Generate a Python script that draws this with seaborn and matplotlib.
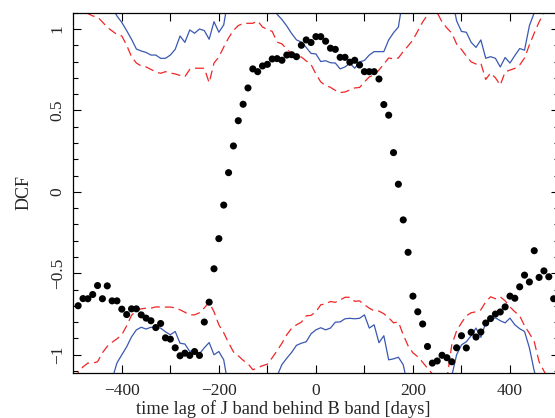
import numpy as np
import pandas as pd
import matplotlib
matplotlib.use("Agg")
import matplotlib.pyplot as plt
from matplotlib.ticker import FixedLocator, FuncFormatter, MultipleLocator
import seaborn as sns

# DCF estimates (10-day bins)
lag_pts = np.arange(-490, 500, 10)
dcf = [
    -0.699, -0.655, -0.656, -0.630, -0.575, -0.656, -0.577, -0.669, -0.669, -0.720,
    -0.753, -0.718, -0.718, -0.755, -0.775, -0.791, -0.833, -0.808, -0.896, -0.904,
    -0.957, -1.006, -0.990, -1.004, -0.980, -1.004, -0.799, -0.677, -0.472, -0.287,
    -0.081, 0.118, 0.282, 0.437, 0.538, 0.638, 0.755, 0.738, 0.773, 0.783,
    0.816, 0.818, 0.808, 0.840, 0.842, 0.830, 0.900, 0.933, 0.917, 0.953,
    0.953, 0.925, 0.882, 0.875, 0.826, 0.826, 0.796, 0.808, 0.779, 0.738,
    0.738, 0.738, 0.693, 0.536, 0.471, 0.241, 0.047, -0.172, -0.371, -0.640,
    -0.736, -0.811, -0.949, -1.051, -1.038, -1.003, -1.018, -1.043, -0.957, -0.883,
    -0.958, -0.862, -0.891, -0.860, -0.805, -0.778, -0.750, -0.737, -0.706, -0.640,
    -0.653, -0.583, -0.511, -0.553, -0.361, -0.525, -0.485, -0.521, -0.656,
]

# significance envelopes from simulated light curves
lag_env = np.arange(-500, 510, 10)
upper_blue = [
    1.25, 1.25, 1.25, 1.25, 1.25, 1.22, 1.20, 1.17, 1.13, 1.08,
    1.04, 0.99, 0.937, 0.877, 0.865, 0.856, 0.840, 0.840, 0.820, 0.820,
    0.840, 0.875, 0.957, 0.918, 0.994, 0.974, 1.000, 0.990, 0.937, 1.045,
    0.980, 1.025, 1.20, 1.30, 1.30, 1.30, 1.30, 1.30, 1.30, 1.30,
    1.30, 1.20, 1.09, 1.058, 1.018, 0.972, 0.933, 0.920, 0.887, 0.850,
    0.847, 0.800, 0.805, 0.793, 0.791, 0.755, 0.767, 0.790, 0.759, 0.798,
    0.807, 0.840, 0.861, 0.861, 0.861, 0.933, 0.977, 1.012, 1.20, 1.30,
    1.30, 1.30, 1.30, 1.30, 1.30, 1.30, 1.30, 1.30, 1.20, 1.05,
    0.985, 0.980, 0.918, 0.887, 0.933, 0.820, 0.830, 0.820, 0.767, 0.825,
    0.791, 0.837, 0.880, 0.870, 1.020, 1.10, 1.20, 1.30, 1.30, 1.30,
    1.30,
]
upper_red = [
    1.13, 1.12, 1.105, 1.095, 1.08, 1.074, 1.043, 1.010, 0.988, 0.966,
    0.957, 0.900, 0.830, 0.791, 0.773, 0.767, 0.752, 0.736, 0.728, 0.738,
    0.730, 0.724, 0.715, 0.707, 0.752, 0.759, 0.759, 0.759, 0.670, 0.791,
    0.828, 0.889, 0.945, 0.991, 1.021, 1.034, 1.035, 1.035, 1.049, 1.012,
    0.997, 0.985, 0.920, 0.908, 0.877, 0.847, 0.837, 0.828, 0.804, 0.782,
    0.724, 0.675, 0.653, 0.642, 0.623, 0.610, 0.613, 0.626, 0.638, 0.641,
    0.675, 0.706, 0.718, 0.748, 0.785, 0.822, 0.816, 0.822, 0.862, 0.896,
    0.933, 0.988, 1.043, 1.086, 1.13, 1.10, 1.043, 1.006, 0.975, 0.908,
    0.874, 0.834, 0.798, 0.785, 0.790, 0.690, 0.730, 0.700, 0.656, 0.736,
    0.748, 0.758, 0.779, 0.822, 0.902, 0.975, 1.043, 1.10, 1.15, 1.20,
    1.25,
]
lower_blue = [
    -1.30, -1.30, -1.30, -1.30, -1.30, -1.30, -1.30, -1.30, -1.15, -1.05,
    -1.00, -0.951, -0.890, -0.847, -0.831, -0.842, -0.831, -0.833, -0.836, -0.859,
    -0.877, -0.857, -0.929, -0.934, -0.980, -0.969, -0.994, -0.957, -0.925, -1.000,
    -0.980, -1.031, -1.20, -1.30, -1.30, -1.30, -1.30, -1.30, -1.30, -1.30,
    -1.30, -1.30, -1.13, -1.06, -1.021, -0.985, -0.942, -0.929, -0.920, -0.871,
    -0.847, -0.834, -0.847, -0.836, -0.800, -0.798, -0.779, -0.776, -0.779, -0.776,
    -0.755, -0.836, -0.816, -0.926, -0.883, -1.031, -1.025, -1.015, -1.061, -1.20,
    -1.30, -1.30, -1.30, -1.30, -1.30, -1.30, -1.30, -1.30, -1.13, -1.00,
    -0.939, -0.920, -0.883, -0.836, -0.893, -0.804, -0.785, -0.773, -0.791, -0.804,
    -0.775, -0.816, -0.840, -0.857, -0.957, -1.10, -1.20, -1.30, -1.30, -1.30,
    -1.30,
]
lower_red = [
    -1.15, -1.11, -1.074, -1.051, -1.051, -1.043, -0.988, -0.948, -0.923, -0.902,
    -0.877, -0.822, -0.758, -0.727, -0.718, -0.714, -0.714, -0.706, -0.707, -0.707,
    -0.707, -0.712, -0.724, -0.739, -0.755, -0.755, -0.742, -0.712, -0.678, -0.736,
    -0.816, -0.865, -0.926, -0.982, -1.006, -1.034, -1.055, -1.092, -1.080, -1.067,
    -1.058, -1.018, -0.975, -0.929, -0.877, -0.837, -0.816, -0.800, -0.761, -0.758,
    -0.736, -0.693, -0.687, -0.673, -0.678, -0.663, -0.647, -0.647, -0.672, -0.669,
    -0.693, -0.714, -0.730, -0.732, -0.748, -0.773, -0.804, -0.798, -0.877, -0.945,
    -0.988, -1.012, -1.046, -1.083, -1.117, -1.15, -1.20, -1.15, -0.940, -0.853,
    -0.804, -0.761, -0.742, -0.736, -0.724, -0.675, -0.644, -0.656, -0.644, -0.669,
    -0.706, -0.736, -0.761, -0.822, -0.868, -0.920, -1.043, -1.10, -1.15, -1.20,
    -1.25,
]

x_ticks = [-400, -300, -200, -100, 0, 100, 200, 300, 400]
x_labeled = [-400, -200, 0, 200, 400]
y_ticks = [-1, -0.5, 0, 0.5, 1]

sns.set_theme(style="ticks")
plt.rcParams.update({
    "font.family": ["Liberation Serif", "DejaVu Serif"],
    "lines.scale_dashes": False,
    "axes.unicode_minus": True,
})

BLUE = "#3a58b0"
RED = "#f02626"

fig = plt.figure(figsize=(5.55, 4.18), dpi=100)
ax = fig.add_axes([73.3 / 555, (418 - 372.7) / 418, 485.2 / 555, 360 / 418])

env = pd.DataFrame({"lag": lag_env, "ub": upper_blue, "ur": upper_red,
                    "lb": lower_blue, "lr": lower_red})

for col, colr, dashed in [("ur", RED, True), ("lr", RED, True),
                          ("ub", BLUE, False), ("lb", BLUE, False)]:
    sns.lineplot(data=env, x="lag", y=col, color=colr, linewidth=0.9,
                 ax=ax, zorder=2)
    if dashed:
        ax.lines[-1].set_dashes([6.5, 3.6])

sns.scatterplot(x=lag_pts, y=dcf, color="black", s=26, edgecolor="none",
                ax=ax, zorder=3)

ax.set_xlim(-500, 500)
ax.set_ylim(-1.11, 1.10)

ax.xaxis.set_major_locator(FixedLocator(x_ticks))
ax.xaxis.set_major_formatter(FuncFormatter(
    lambda v, p: f"{int(v)}".replace("-", "\u2212") if int(v) in x_labeled else ""))
ax.yaxis.set_major_locator(FixedLocator(y_ticks))
ax.yaxis.set_minor_locator(MultipleLocator(0.1))
ax.yaxis.set_major_formatter(FuncFormatter(
    lambda v, p: f"{v:g}".replace("-", "\u2212")))

ax.tick_params(axis="both", which="both", direction="in", top=True, right=True,
               color="black", width=0.8)
ax.tick_params(axis="both", which="major", length=6, labelsize=12.5)
ax.tick_params(axis="y", which="minor", length=3.5)
ax.tick_params(axis="x", which="major", pad=7.5)
ax.tick_params(axis="y", which="major", pad=5.5)
for lbl in ax.get_yticklabels():
    lbl.set_rotation(90)
    lbl.set_va("center")

for sp in ax.spines.values():
    sp.set_linewidth(0.9)
    sp.set_color("black")

ax.set_xlabel("time lag of J band behind B band [days]", fontsize=13.2)
ax.xaxis.set_label_coords(0.432, -0.076)
ax.set_ylabel("DCF", fontsize=13, labelpad=12)

fig.savefig("out.png", dpi=100)
